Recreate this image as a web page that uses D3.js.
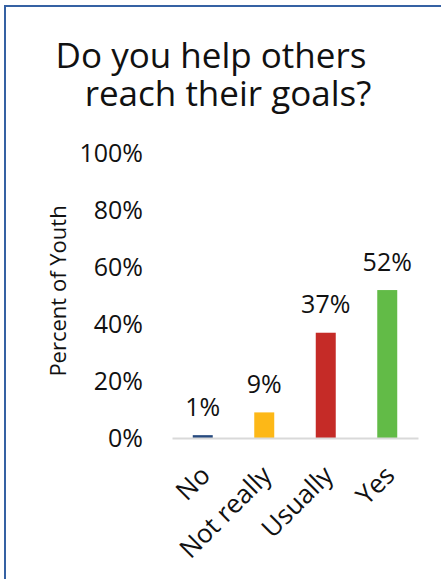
<!DOCTYPE html>
<html>
<head>
<meta charset="utf-8">
<script src="https://cdn.jsdelivr.net/npm/d3@7"></script>
<style>
  html, body { margin: 0; padding: 0; background: #fff; }
  svg { display: block; }
  text { font-family: "Open Sans", "Noto Sans", sans-serif; fill: #111; }
</style>
</head>
<body>
<svg id="chart" width="441" height="579"></svg>
<script>
// Survey answers and share of youth per answer
const categories = ["No", "Not really", "Usually", "Yes"];
const values = [0.01, 0.09, 0.37, 0.52];
const valueLabels = ["1%", "9%", "37%", "52%"];
const barColors = ["#264a7f", "#fdb817", "#c52b27", "#62bb47"];
const yTicks = [0, 0.2, 0.4, 0.6, 0.8, 1.0];
const yTickLabels = ["0%", "20%", "40%", "60%", "80%", "100%"];
const titleLines = ["Do you help others", "reach their goals?"];
const yAxisTitle = "Percent of Youth";

const svg = d3.select("#chart");

// Frame around the chart (left and top edges are inside the window)
svg.append("rect")
  .attr("x", 5).attr("y", 6)
  .attr("width", 460).attr("height", 600)
  .attr("fill", "none")
  .attr("stroke", "#3561a3")
  .attr("stroke-width", 2);

// Title, two lines in one text element
const titleX = [211, 228];
const titleY = [68, 106];
const title = svg.append("text")
  .attr("text-anchor", "middle")
  .style("font-size", "35px");
titleLines.forEach((t, i) => {
  title.append("tspan")
    .attr("x", titleX[i]).attr("y", titleY[i])
    .text(t);
});

const x = d3.scaleBand()
  .domain(categories)
  .range([172, 418])
  .paddingInner(0.675)
  .paddingOuter(0.3375);

const y = d3.scaleLinear()
  .domain([0, 1])
  .range([438, 153.5]);

// Y axis: labels only
const yAxis = svg.append("g")
  .attr("transform", "translate(172,0)")
  .call(d3.axisLeft(y)
    .tickValues(yTicks)
    .tickFormat((d, i) => yTickLabels[i])
    .tickSize(0)
    .tickPadding(29));
yAxis.select(".domain").remove();
yAxis.selectAll("text")
  .attr("fill", "#111")
  .style("font-size", "25px")
  .style("font-family", "'Open Sans', sans-serif");

// Y axis title
svg.append("text")
  .attr("transform", "translate(66,291) rotate(-90)")
  .attr("text-anchor", "middle")
  .style("font-size", "22px")
  .text(yAxisTitle);

// Bars
svg.append("g").selectAll("rect")
  .data(categories)
  .join("rect")
  .attr("x", d => x(d))
  .attr("width", x.bandwidth())
  .attr("y", (d, i) => y(values[i]))
  .attr("height", (d, i) => y(0) - y(values[i]))
  .attr("fill", (d, i) => barColors[i]);

// Value labels above bars
svg.append("g").selectAll("text")
  .data(categories)
  .join("text")
  .attr("x", d => x(d) + x.bandwidth() / 2)
  .attr("y", (d, i) => y(values[i]) - 19.5)
  .attr("text-anchor", "middle")
  .style("font-size", "25px")
  .text((d, i) => valueLabels[i]);

// X axis line
const xAxis = svg.append("g")
  .attr("transform", "translate(0,438)")
  .call(d3.axisBottom(x).tickSize(0).tickFormat(""));
xAxis.select(".domain")
  .attr("stroke", "#d9d9d9")
  .attr("stroke-width", 2);

// Rotated category labels
svg.append("g").selectAll("text")
  .data(categories)
  .join("text")
  .attr("transform", d => `translate(${x(d) + x.bandwidth() / 2 + 9},477) rotate(-45)`)
  .attr("text-anchor", "end")
  .style("font-size", "26px")
  .text(d => d);
</script>
</body>
</html>
